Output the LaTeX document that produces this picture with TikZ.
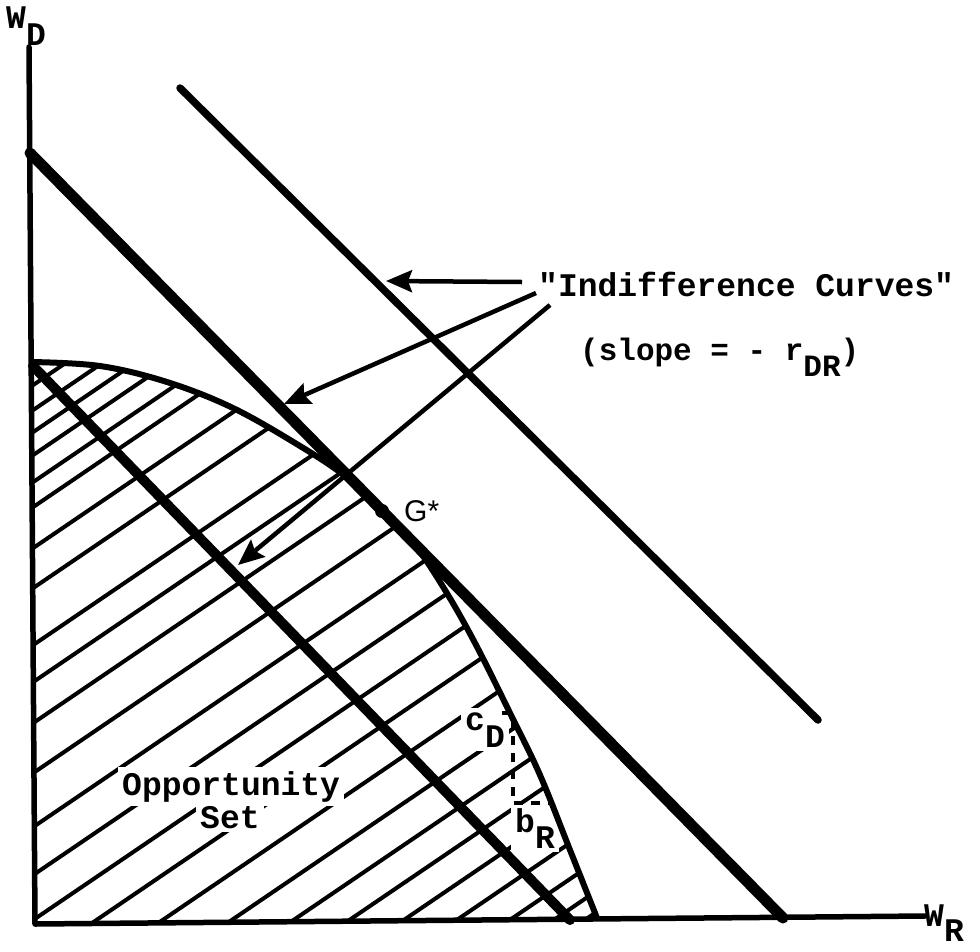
\documentclass[tikz,border=0pt]{standalone}
\usepackage{fontspec}
\setmonofont{Liberation Mono}
\newfontfamily\gsansfam{Liberation Sans}
\usetikzlibrary{arrows.meta}
\newcommand\lowr[2][16pt]{\raisebox{-#1}{#2}}
\begin{document}
\begin{tikzpicture}[x=1pt,y=-1pt,
  axis/.style={line width=5.5pt, line cap=round, line join=round},
  thickline/.style={line width=11pt, line cap=round},
  lowline/.style={line width=10pt, line cap=round},
  midline/.style={line width=7.5pt, line cap=round},
  oppcurve/.style={line width=6pt},
  hatchline/.style={line width=4pt, line cap=round},
  arr/.style={line width=4.5pt, -{Stealth[length=26pt,width=22pt,inset=4pt]}},
  dashmark/.style={line width=3.2pt, dash pattern=on 9pt off 8pt},
  lbl/.style={font=\ttfamily\bfseries\fontsize{33}{33}\selectfont, inner sep=0pt, anchor=base west},
  wlbl/.style={lbl, fill=white, inner sep=4pt},
]
\useasboundingbox (0,0) rectangle (980,951);
\fill[white] (0,0) rectangle (980,951);

% opportunity set hatching
\begin{scope}
\clip plot[smooth,tension=0.6] coordinates {(31,362) (100,366) (167,382) (233,408) (300,446) (345,476) (383,510) (415,545) (445,590) (475,643) (510,713) (540,775) (570,850) (597,918)} -- (597,919) -- (35,923) -- cycle;
\foreach \y in {385,410,432,455,482,507,548,588,645,682,723,773,827,875,920,963,1008,1055,1097,1135,1172,1208,1244,1274,1295}
  \draw[hatchline] (20,\y+9) -- ++(900,-612);
\end{scope}

% labels that interrupt the hatching
\node[wlbl] (op) at (118,795) {Opportunity};
\node[wlbl] (st) at (196,828) {Set};
\node[wlbl] (cd) at (461,730) {c\lowr[17pt]{D}};
\node[wlbl] (br) at (511,832) {b\lowr{R}};

% axes
\coordinate (vtop) at (29,47);
\coordinate (orig) at (35,924);
\coordinate (hend) at (925,916);
\draw[axis] (vtop) -- (orig) -- (hend);

% indifference lines
\coordinate (u1) at (180,88);
\coordinate (u2) at (818,720);
\coordinate (t1) at (30,153);
\coordinate (t2) at (783,918);
\coordinate (l1) at (33,366);
\coordinate (l2) at (570,920);
\draw[midline] (u1) -- (u2);
\draw[thickline] (t1) -- (t2);
\draw[lowline] (l1) -- (l2);

% opportunity frontier
\draw[oppcurve] plot[smooth,tension=0.6] coordinates {(31,362) (100,366) (167,382) (233,408) (300,446) (345,476) (383,510) (415,545) (445,590) (475,643) (510,713) (540,775) (570,850) (597,918)};

% G*
\coordinate (gpt) at (382,511);
\fill (gpt) circle[radius=7pt];
\node[lbl, font=\gsansfam\fontsize{30}{30}\selectfont] (gs) at (404,521) {G*};

% slope marks
\coordinate (d0) at (502,713);
\coordinate (d1) at (513,713);
\coordinate (d2) at (513,803);
\coordinate (d3) at (551,803);
\draw[dashmark] (d0) -- (d1) -- (d2) -- (d3);

% arrows
\coordinate (a1s) at (522,282);
\coordinate (a1e) at (386,281);
\coordinate (a2s) at (536,293);
\coordinate (a2e) at (284,404);
\coordinate (a3s) at (550,305);
\coordinate (a3e) at (238,565);
\draw[arr] (a1s) -- (a1e);
\draw[arr] (a2s) -- (a2e);
\draw[arr] (a3s) -- (a3e);

% texts
\node[lbl] (ic) at (538,296) {"Indifference Curves"};
\node[lbl, font=\ttfamily\bfseries\fontsize{31}{31}\selectfont] (sl) at (580,360) {(slope = - r\lowr{DR})};
\node[lbl] (wd) at (6,28) {W\lowr[17pt]{D}};
\node[lbl] (wr) at (924,926) {W\lowr[15pt]{R}};
\end{tikzpicture}
\end{document}
